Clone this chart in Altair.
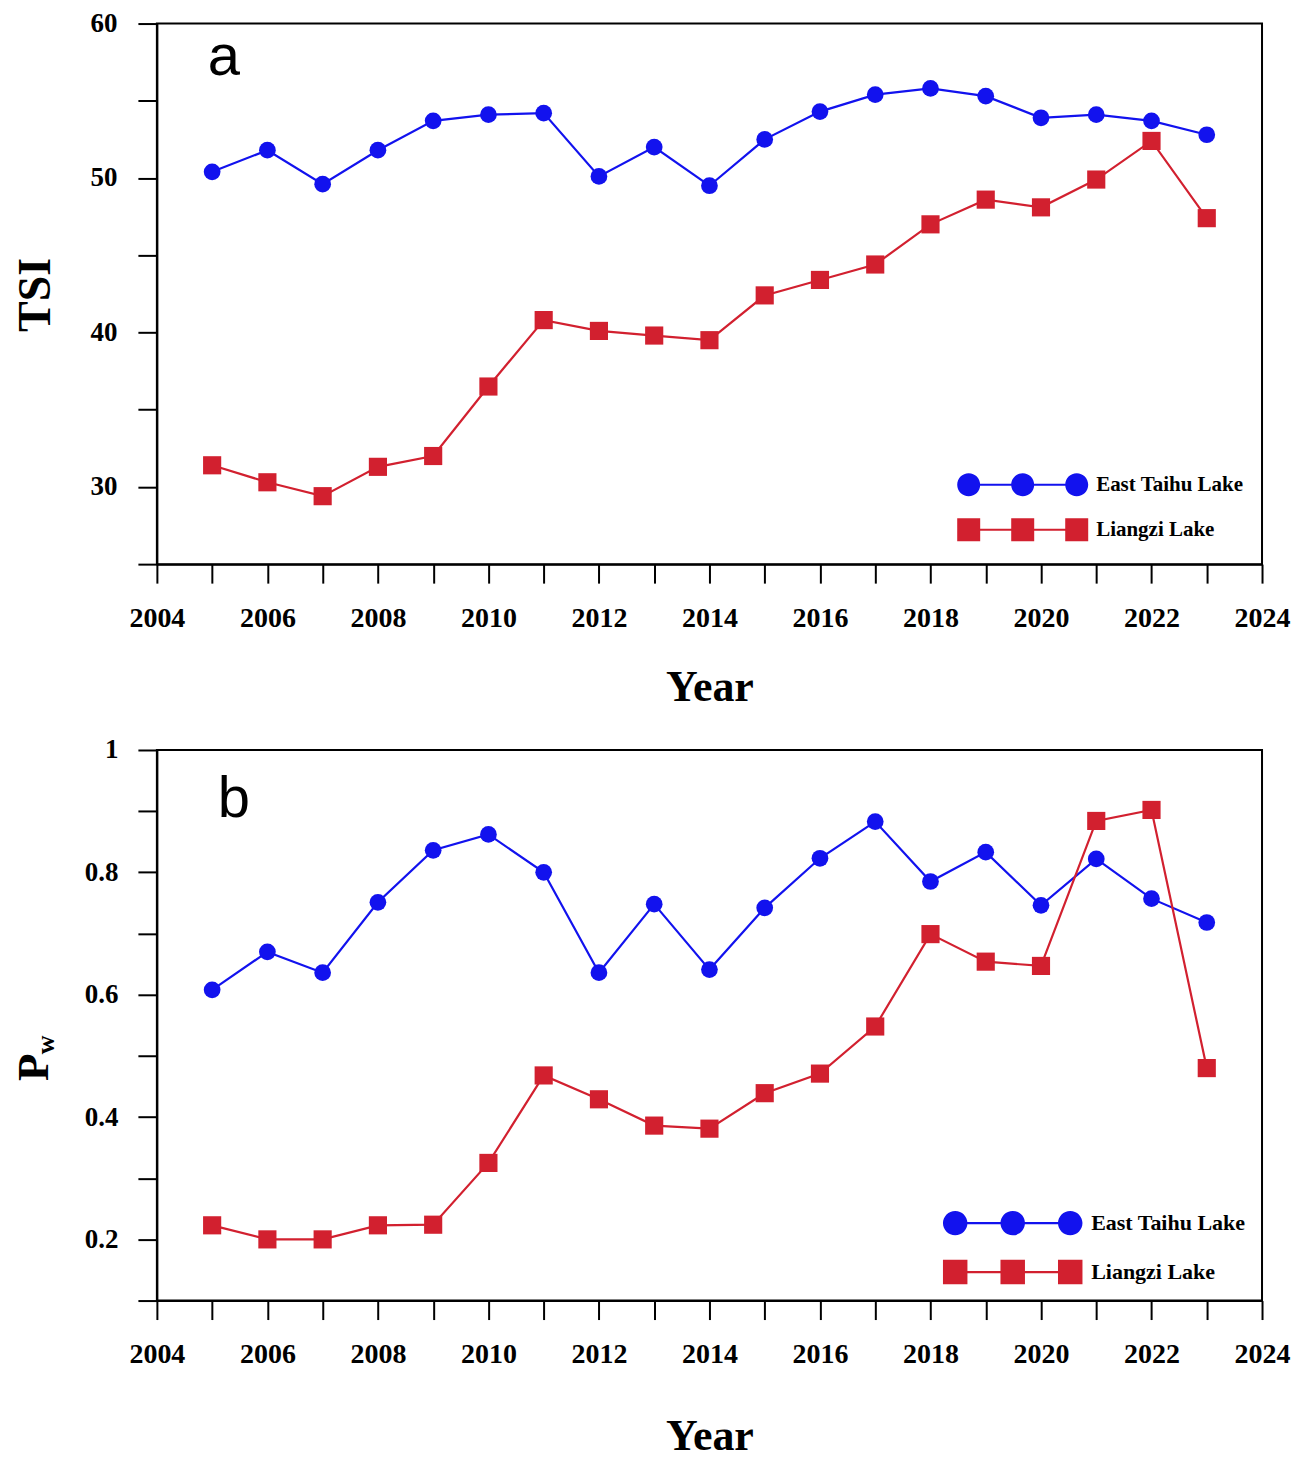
import altair as alt
import pandas as pd

# ---------------- data ----------------
years = list(range(2005, 2024))
lakes = ["East Taihu Lake", "Liangzi Lake"]

tsi_east = [50.4, 51.8, 49.6, 51.8, 53.7, 54.1, 54.2, 50.1, 52.0, 49.5,
            52.5, 54.3, 55.4, 55.8, 55.3, 53.9, 54.1, 53.7, 52.8]
tsi_liangzi = [31.4, 30.3, 29.4, 31.3, 32.0, 36.5, 40.8, 40.1, 39.8, 39.5,
               42.4, 43.4, 44.4, 47.0, 48.6, 48.1, 49.9, 52.4, 47.4]

pw_east = [0.608, 0.670, 0.636, 0.751, 0.836, 0.862, 0.800, 0.636, 0.748, 0.641,
           0.742, 0.823, 0.883, 0.785, 0.833, 0.746, 0.822, 0.757, 0.718]
pw_liangzi = [0.223, 0.200, 0.200, 0.223, 0.224, 0.325, 0.468, 0.429, 0.386, 0.381,
              0.439, 0.471, 0.548, 0.699, 0.654, 0.647, 0.884, 0.902, 0.480]

x_ticks = list(range(2004, 2025))
tsi_ticks = [25, 30, 35, 40, 45, 50, 55, 60]
pw_ticks = [0.1, 0.2, 0.3, 0.4, 0.5, 0.6, 0.7, 0.8, 0.9, 1.0]

BLUE = "#1212EE"
RED = "#D2202F"
SERIF = "Liberation Serif"


def long_df(east, liang):
    return pd.DataFrame({
        "Year": years + years,
        "Value": east + liang,
        "Lake": [lakes[0]] * len(years) + [lakes[1]] * len(years),
    })


def circ(cx):
    return f"M{cx-1},0A1,1 0 1,1 {cx+1},0A1,1 0 1,1 {cx-1},0Z"


def sq(cx):
    return f"M{cx-1},-1L{cx+1},-1L{cx+1},1L{cx-1},1Z"


def seg(a, b, h=0.09):
    return f"M{a},{-h}L{b},{-h}L{b},{h}L{a},{h}Z"


S = 4.7
LINE = seg(-S + 0.9, -0.9) + seg(0.9, S - 0.9)
CIRC3 = circ(-S) + circ(0) + circ(S) + LINE
SQR3 = sq(-S) + sq(0) + sq(S) + LINE


def panel(east, liang, ydom, yticks, ylabel_expr, yfmt, ytitle, ytx, yty, ytsize,
          w, h, xtitle_pad, leg_x, leg_y, leg_size, leg_font, leg_row, leg_off,
          letter, lx, ly, ylabel_pad, extra=None):
    df = long_df(east, liang)
    x = alt.X("Year:Q",
              scale=alt.Scale(domain=[2004, 2024], nice=False, zero=False),
              axis=alt.Axis(values=x_ticks, format="d",
                            labelExpr="datum.value % 2 == 0 ? datum.label : ''",
                            labelFontSize=28, labelPadding=21, labelFlush=False,
                            labelOverlap=False, title="Year", titleFontSize=44,
                            titlePadding=xtitle_pad))
    y = alt.Y("Value:Q",
              scale=alt.Scale(domain=ydom, nice=False, zero=False),
              axis=alt.Axis(values=yticks, format=yfmt, labelExpr=ylabel_expr,
                            labelFontSize=27, labelPadding=ylabel_pad, labelFlush=False,
                            labelOverlap=False, title=ytitle, titleFontSize=ytsize,
                            titleX=ytx, titleY=yty, titleBaseline="alphabetic",
                            titleAlign="center", titleAngle=270))
    base = alt.Chart(df)
    east_f = f"datum.Lake == '{lakes[0]}'"
    liang_f = f"datum.Lake == '{lakes[1]}'"
    l1 = base.transform_filter(east_f).mark_line(color=BLUE, strokeWidth=2.2).encode(x=x, y=y)
    l2 = base.transform_filter(liang_f).mark_line(color=RED, strokeWidth=2.2).encode(x=x, y=y)
    p1 = base.transform_filter(east_f).mark_point(shape="circle", filled=True, color=BLUE,
                                                  size=280, opacity=1).encode(x=x, y=y)
    p2 = base.transform_filter(liang_f).mark_point(shape="square", filled=True, color=RED,
                                                   size=330, opacity=1).encode(x=x, y=y)
    leg = alt.Legend(orient="none", legendX=leg_x, legendY=leg_y, title=None,
                     labelFont=SERIF, labelFontWeight="bold", labelFontSize=leg_font,
                     labelColor="black", symbolStrokeWidth=0, rowPadding=leg_row,
                     labelOffset=leg_off, symbolSize=leg_size, symbolOpacity=1,
                     padding=0)
    lg = base.transform_filter("datum.Year < 0").mark_point(filled=True, size=leg_size, opacity=1).encode(
        x=x, y=y,
        color=alt.Color("Lake:N", scale=alt.Scale(domain=lakes, range=[BLUE, RED]), legend=leg),
        shape=alt.Shape("Lake:N", scale=alt.Scale(domain=lakes, range=[CIRC3, SQR3]), legend=leg),
    )
    txt = alt.Chart(pd.DataFrame({"t": [letter]})).mark_text(
        font="Liberation Sans", fontSize=58, align="left", baseline="alphabetic", color="black"
    ).encode(text="t:N", x=alt.value(lx), y=alt.value(ly))
    layers = [l1, l2, p1, p2, lg, txt]
    if extra is not None:
        layers.append(extra)
    return alt.layer(*layers).properties(width=w, height=h)


top = panel(tsi_east, tsi_liangzi, [25, 60], tsi_ticks,
            "datum.value % 10 == 0 ? datum.label : ''", "d", "TSI", -107, 271, 46,
            1106, 541, 33, 855, 450, 529, 21, 21, 62, "a", 51, 51, 21)

sub_w = alt.Chart(pd.DataFrame({"t": ["w"]})).mark_text(
    font=SERIF, fontWeight="bold", fontSize=26, angle=270, align="center",
    baseline="alphabetic", color="black"
).encode(text="t:N", x=alt.value(-103), y=alt.value(295))

bottom = panel(pw_east, pw_liangzi, [0.1, 1.0], pw_ticks,
               "abs(round(datum.value * 10)) % 2 == 0 ? format(datum.value, '~g') : ''",
               "~g", "P", -109, 317, 45,
               1106, 551, 46, 844, 461, 600, 22, 24, 66, "b", 61, 67, 20, extra=sub_w)

chart = alt.vconcat(top, bottom, spacing=25).resolve_scale(
    color="independent", shape="independent"
).resolve_legend(color="independent", shape="independent").properties(
    padding={"left": 3, "top": 0, "right": 0, "bottom": 0}
).configure_view(stroke="black", strokeWidth=2).configure_axis(
    domainColor="black", domainWidth=2, tickColor="black", tickWidth=2, tickSize=19,
    grid=False, labelColor="black", titleColor="black", labelFont=SERIF, titleFont=SERIF,
    labelFontWeight="bold", titleFontWeight="bold", labelAngle=0
)

chart.save("out.html", embed_options={"renderer": "svg", "actions": False})
